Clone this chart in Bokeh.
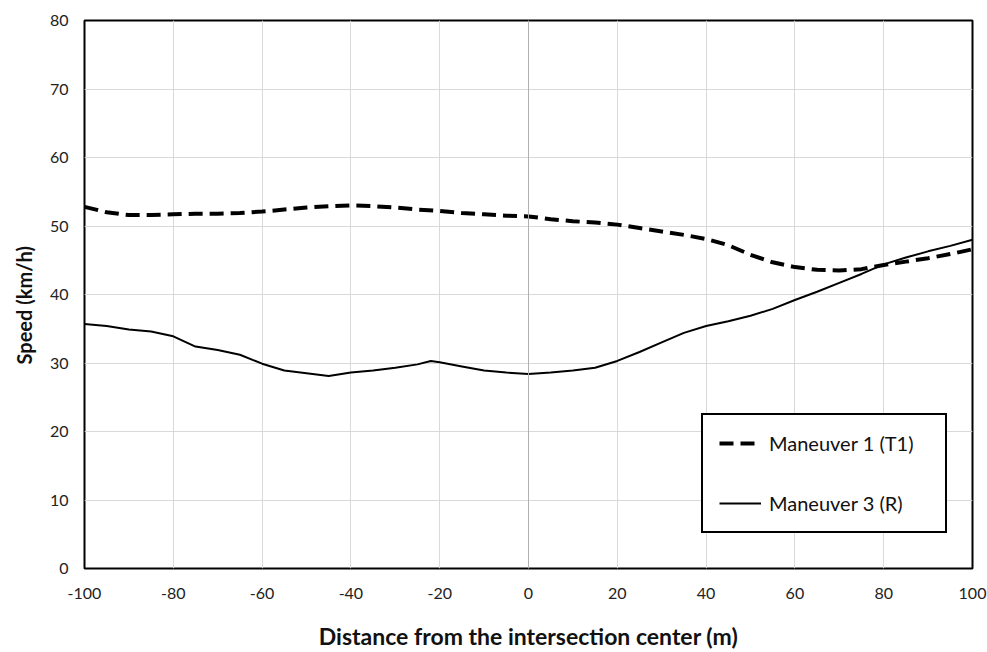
from bokeh.plotting import figure
from bokeh.models import Legend, LegendItem, Span, FixedTicker, Range1d, Title
from bokeh.embed import file_html
from bokeh.resources import INLINE

# Maneuver 1 (T1) - dashed
m1_dist = [-100, -95, -90, -85, -80, -75, -70, -65, -60, -55, -50, -45, -40, -35, -30, -25, -20,
           -15, -10, -5, 0, 5, 10, 15, 20, 25, 30, 35, 40, 45, 50, 55, 60, 65, 70, 75, 80, 85, 90, 95, 100]
m1_speed = [52.8, 52.0, 51.6, 51.6, 51.7, 51.8, 51.8, 51.9, 52.1, 52.4, 52.7, 52.9, 53.0, 52.9, 52.7,
            52.4, 52.2, 51.9, 51.7, 51.5, 51.4, 51.0, 50.7, 50.5, 50.2, 49.7, 49.2, 48.7, 48.1, 47.2,
            45.8, 44.7, 44.0, 43.6, 43.5, 43.7, 44.3, 44.8, 45.3, 45.9, 46.6]

# Maneuver 3 (R) - solid
m3_dist = [-100, -95, -90, -85, -80, -75, -70, -65, -60, -55, -50, -45, -40, -35, -30, -25, -22, -20,
           -15, -10, -5, 0, 5, 10, 15, 20, 25, 30, 35, 40, 45, 50, 55, 60, 65, 70, 75, 80, 85, 90, 95, 100]
m3_speed = [35.7, 35.4, 34.9, 34.6, 33.9, 32.4, 31.9, 31.2, 29.9, 28.9, 28.5, 28.1, 28.6, 28.9, 29.3,
            29.8, 30.3, 30.1, 29.5, 28.9, 28.6, 28.4, 28.6, 28.9, 29.3, 30.3, 31.6, 33.0, 34.4, 35.4,
            36.1, 36.9, 37.9, 39.2, 40.4, 41.7, 43.0, 44.4, 45.4, 46.3, 47.1, 48.0]

x_ticks = [-100, -80, -60, -40, -20, 0, 20, 40, 60, 80, 100]
x_tick_labels = ["-100", "-80", "-60", "-40", "-20", "0", "20", "40", "60", "80", "100"]
y_ticks = [0, 10, 20, 30, 40, 50, 60, 70, 80]
labels = ["Maneuver 1 (T1)", "Maneuver 3 (R)"]
x_title = "Distance from the intersection center (m)"
y_title = "Speed (km/h)"

FONT = "Lato"

p = figure(width=987, height=652, output_backend="svg", toolbar_location=None,
           x_range=Range1d(-100, 100), y_range=Range1d(0, 80),
           min_border_left=83, min_border_right=15, min_border_top=20, min_border_bottom=82)

p.outline_line_color = "black"
p.outline_line_width = 2
p.background_fill_color = "white"
p.border_fill_color = "white"

for ax in (p.xaxis[0], p.yaxis[0]):
    ax.axis_line_color = None
    ax.major_tick_line_color = None
    ax.minor_tick_line_color = None
    ax.major_label_text_font = FONT
    ax.major_label_text_font_size = "16px"
    ax.major_label_text_color = "#222222"
    ax.axis_label_text_font = FONT
    ax.axis_label_text_font_style = "bold"
    ax.axis_label_text_color = "#111111"

p.xaxis.ticker = FixedTicker(ticks=x_ticks)
p.xaxis.major_label_overrides = {t: s for t, s in zip(x_ticks, x_tick_labels)}
p.yaxis.ticker = FixedTicker(ticks=y_ticks)
p.xaxis.major_label_standoff = 13
p.yaxis.major_label_standoff = 10
p.xaxis.axis_label = x_title
p.xaxis.axis_label_text_font_size = "23px"
p.xaxis.axis_label_standoff = 20

ytitle = Title(text=y_title, align="left", offset=204, vertical_align="middle",
               text_font=FONT, text_font_size="20px", text_font_style="bold",
               text_color="#111111", standoff=20)
p.add_layout(ytitle, "left")

p.xgrid.grid_line_color = "#d9d9d9"
p.ygrid.grid_line_color = "#d9d9d9"
p.xgrid.grid_line_width = 1
p.ygrid.grid_line_width = 1

p.add_layout(Span(location=0, dimension="height", line_color="#b0b0b0", line_width=1))

r1 = p.line(m1_dist, m1_speed, line_color="black", line_width=4, line_dash="14 7")
r3 = p.line(m3_dist, m3_speed, line_color="black", line_width=2)

legend = Legend(items=[LegendItem(label=labels[0], renderers=[r1]),
                       LegendItem(label=labels[1], renderers=[r3])],
                location=(617, 35))
legend.border_line_color = "black"
legend.border_line_alpha = 1
legend.border_line_width = 2
legend.background_fill_color = "white"
legend.background_fill_alpha = 1
legend.padding = 16
legend.spacing = 36
legend.margin = 0
legend.glyph_width = 42
legend.glyph_height = 22
legend.label_height = 22
legend.label_width = 160
legend.label_standoff = 8
legend.label_text_font = FONT
legend.label_text_font_size = "20px"
legend.label_text_color = "#111111"
p.add_layout(legend, "center")

open("out.html", "w").write(file_html(p, INLINE))
